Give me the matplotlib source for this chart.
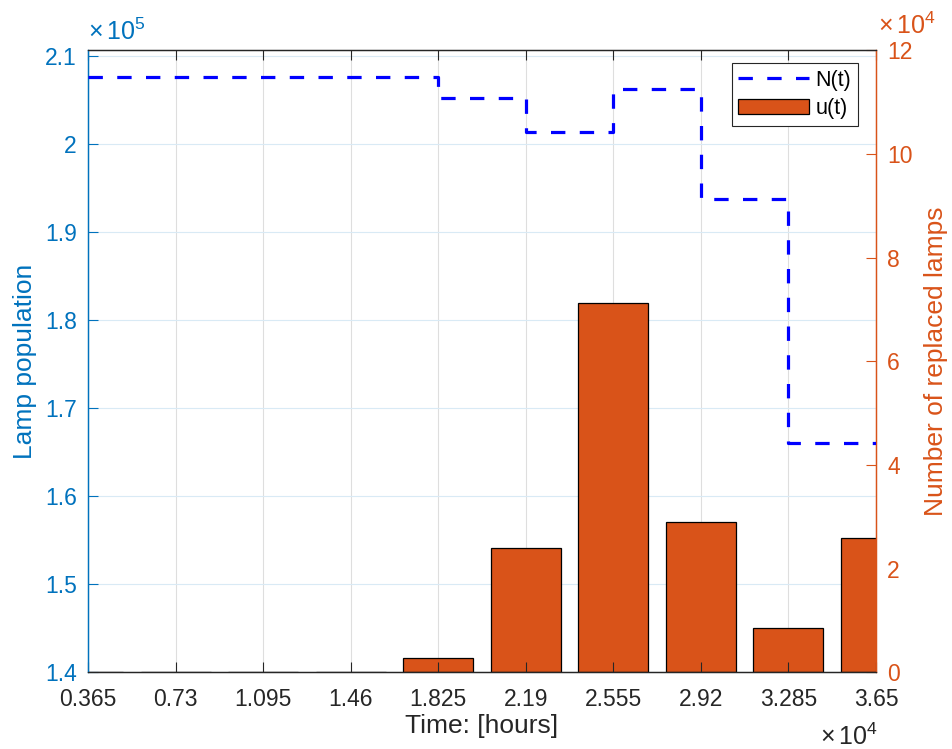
import matplotlib
matplotlib.use("Agg")
import matplotlib.pyplot as plt
import numpy as np
from matplotlib.patches import Patch
from matplotlib.lines import Line2D

plt.rcParams['font.family'] = ['Liberation Sans', 'DejaVu Sans']
plt.rcParams['mathtext.default'] = 'regular'

# ---- data ----
time_hours = [3650, 7300, 10950, 14600, 18250, 21900, 25550, 29200, 32850, 36500]
lamp_population = [207630, 207630, 207630, 207560, 205250, 201390, 206270, 193730, 166100, 166100]
replaced_lamps = [60, 80, 100, 120, 2740, 24000, 71260, 29030, 8530, 25940]

BLUE_AX = (0, 0.447, 0.741)
ORANGE = (0.851, 0.325, 0.098)
DARK = (0.15, 0.15, 0.15)

fig = plt.figure(figsize=(9.52, 7.49), dpi=100)
ax1 = fig.add_axes([0.09244, 0.10214, 0.82773, 0.8311])
ax2 = ax1.twinx()

# bars on right axis
step = time_hours[1] - time_hours[0]
ax2.bar(time_hours, replaced_lamps, width=0.8 * step, color=ORANGE,
        edgecolor='black', linewidth=0.9, zorder=2)
ax2.set_ylim(0, 120000)
rt = np.arange(0, 120001, 20000)
ax2.set_yticks(rt)
ax2.set_yticklabels(['%g' % (v / 1e4) for v in rt])

# stairs on left axis
ax1.step(time_hours, lamp_population, where='post', color='blue',
         linewidth=2.3, linestyle=(0, (4.5, 4.5)), zorder=3)
ax1.set_ylim(140000, 210660)
lt = np.arange(140000, 210001, 10000)
ax1.set_yticks(lt)
ax1.set_yticklabels(['%g' % round(v / 1e5, 2) for v in lt])

ax1.set_xlim(time_hours[0], time_hours[-1])
ax1.set_xticks(time_hours)
ax1.set_xticklabels(['%g' % round(v / 1e4, 4) for v in time_hours])

# draw order: line axis above bars
ax1.set_zorder(ax2.get_zorder() + 1)
ax1.patch.set_visible(False)
ax2.patch.set_visible(True)
ax2.patch.set_facecolor('white')
ax2.set_zorder(0)

# grid: drawn on ax2 (behind bars) using ax1 positions
ax2.set_axisbelow(True)
for x in time_hours:
    ax2.axvline(x, color=(0.87, 0.87, 0.87), linewidth=0.8, zorder=0)
for y in lt:
    ax2.plot([0, 1], [(y - 140000) / (210660 - 140000)] * 2, transform=ax2.transAxes,
             color=(0.85, 0.917, 0.961), linewidth=0.8, zorder=0)

fs_tick = 16.5
fs_lab = 19
for ax in (ax1, ax2):
    ax.tick_params(direction='in', length=7.5, width=0.8, labelsize=fs_tick)

ax1.tick_params(axis='x', colors=DARK, top=True, labelcolor=DARK, pad=11)
ax1.tick_params(axis='y', colors=BLUE_AX, labelcolor=BLUE_AX, pad=8)
ax2.tick_params(axis='y', colors=ORANGE, labelcolor=ORANGE, pad=8)

for ax in (ax1, ax2):
    ax.spines['top'].set_color(DARK)
    ax.spines['bottom'].set_color(DARK)
    ax.spines['left'].set_color(BLUE_AX)
    ax.spines['right'].set_color(ORANGE)
    for s in ax.spines.values():
        s.set_linewidth(0.9)

ax1.set_xlabel('Time: [hours]', fontsize=fs_lab, color=DARK, labelpad=2)
ax1.set_ylabel('Lamp population', fontsize=fs_lab, color=BLUE_AX, labelpad=6)
ax2.set_ylabel('Number of replaced lamps', fontsize=fs_lab, color=ORANGE, labelpad=8)

# exponent labels
ax1.text(0.0, 1.008, r'$\times\,10^{5}$', transform=ax1.transAxes, fontsize=18,
         color=BLUE_AX, ha='left', va='bottom')
ax2.text(1.002, 1.018, r'$\times\,10^{4}$', transform=ax2.transAxes, fontsize=18,
         color=ORANGE, ha='left', va='bottom')
ax1.text(1.002, -0.082, r'$\times\,10^{4}$', transform=ax1.transAxes, fontsize=18,
         color=DARK, ha='right', va='top')

handles = [Line2D([0], [0], color='blue', linewidth=2.3, linestyle=(0, (4.5, 4.5))),
           Patch(facecolor=ORANGE, edgecolor='black', linewidth=0.9)]
leg = ax1.legend(handles, ['N(t)', 'u(t)'], loc='upper right', fontsize=15.5,
                 fancybox=False, edgecolor=DARK, framealpha=1,
                 bbox_to_anchor=(0.977, 0.979), handlelength=3.3,
                 handletextpad=0.3, borderpad=0.3, labelspacing=0.35,
                 borderaxespad=0.0)
leg.get_frame().set_linewidth(0.8)

fig.savefig('out.png', dpi=100)
